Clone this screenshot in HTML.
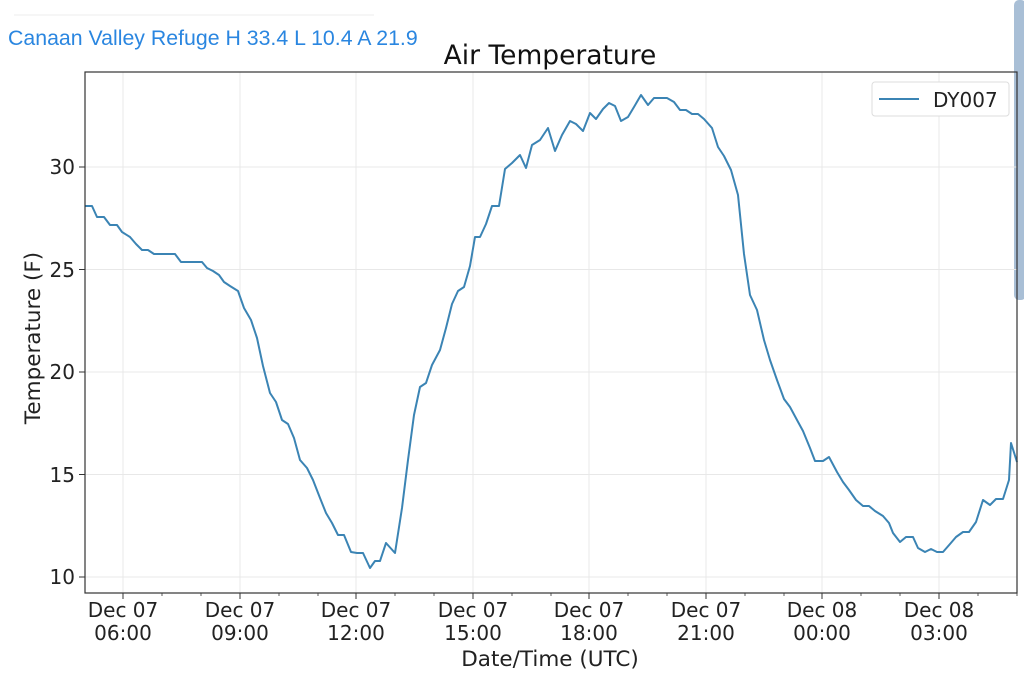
<!DOCTYPE html>
<html><head><meta charset="utf-8"><style>
body{margin:0;background:#fff;width:1024px;height:673px;overflow:hidden;font-family:"DejaVu Sans","Liberation Sans",sans-serif}
</style></head><body>
<svg width="1024" height="673" xmlns="http://www.w3.org/2000/svg" style="position:absolute;left:0;top:0">
<line x1="14" y1="15" x2="374" y2="15" stroke="#eee" stroke-width="1"/>
<text x="8" y="45" font-family="Liberation Sans, sans-serif" font-size="21.3" fill="#2a86e0">Canaan Valley Refuge H 33.4 L 10.4 A 21.9</text>
<rect x="1014" y="0" width="12" height="300" rx="5" fill="#a9bfd6"/>
<text x="550" y="64" font-size="26.5" text-anchor="middle" fill="#111">Air Temperature</text>
<g stroke="#e8e8e8" stroke-width="1">
<line x1="85" y1="577" x2="1017" y2="577"/><line x1="85" y1="474.5" x2="1017" y2="474.5"/>
<line x1="85" y1="372" x2="1017" y2="372"/><line x1="85" y1="269.5" x2="1017" y2="269.5"/>
<line x1="85" y1="167" x2="1017" y2="167"/>
<line x1="123" y1="72" x2="123" y2="593"/><line x1="240" y1="72" x2="240" y2="593"/>
<line x1="356" y1="72" x2="356" y2="593"/><line x1="473" y1="72" x2="473" y2="593"/>
<line x1="589" y1="72" x2="589" y2="593"/><line x1="706" y1="72" x2="706" y2="593"/>
<line x1="822" y1="72" x2="822" y2="593"/><line x1="939" y1="72" x2="939" y2="593"/>
</g>
<polyline fill="none" stroke="#3b84b4" stroke-width="2" stroke-linejoin="round" points="85,206 92,206 97,217 104,217 110,225 117,225 122,232 130,237 136,244 142,250 148,250 154,254 160,254 175,254 181,262 202,262 207,268 213,271 219,275 224,282 230,286 238,291 244,308 251,320 257,338 263,366 270,393 276,402 282,420 288,424 294,438 300,460 307,468 313,480 320,498 326,513 332,523 338,535 344,535 351,552 357,553 363,553 370,568 375,561 380,561 386,543 395,553 402,508 408,460 414,415 420,387 426,383 432,365 440,350 446,328 452,304 458,291 464,287 470,266 475,237 480,237 486,224 492,206 499,206 505,169 512,163 520,155 526,168 532,145 540,140 548,128 555,151 562,135 570,121 576,124 583,131 590,113 596,119 603,109 609,103 615,106 621,121 628,117 634,107 641,95 648,105 654,98 661,98 667,98 674,102 680,110 686,110 692,114 698,114 704,119 712,128 718,147 724,156 731,170 738,195 744,254 750,295 757,310 764,340 770,360 777,380 784,399 790,407 797,420 803,431 810,448 815,461 823,461 829,457 837,472 843,482 849,490 856,500 863,506 869,506 875,511 883,516 889,523 893,533 900,542 906,537 913,537 918,548 925,552 931,549 937,552 943,552 950,544 956,537 963,532 969,532 976,522 983,500 990,505 996,499 1003,499 1009,480 1011,443 1017,462"/>
<rect x="85" y="72" width="932" height="521" fill="none" stroke="#333" stroke-width="1.2"/>
<g stroke="#333" stroke-width="1">
<line x1="79" y1="577" x2="85" y2="577"/><line x1="79" y1="474.5" x2="85" y2="474.5"/>
<line x1="79" y1="372" x2="85" y2="372"/><line x1="79" y1="269.5" x2="85" y2="269.5"/>
<line x1="79" y1="167" x2="85" y2="167"/>
<line x1="123" y1="593" x2="123" y2="599"/><line x1="240" y1="593" x2="240" y2="599"/>
<line x1="356" y1="593" x2="356" y2="599"/><line x1="473" y1="593" x2="473" y2="599"/>
<line x1="589" y1="593" x2="589" y2="599"/><line x1="706" y1="593" x2="706" y2="599"/>
<line x1="822" y1="593" x2="822" y2="599"/><line x1="939" y1="593" x2="939" y2="599"/>
</g>
<g stroke="#333" stroke-width="0.8">
<line x1="162" y1="593" x2="162" y2="596"/><line x1="201" y1="593" x2="201" y2="596"/>
<line x1="279" y1="593" x2="279" y2="596"/><line x1="318" y1="593" x2="318" y2="596"/>
<line x1="395" y1="593" x2="395" y2="596"/><line x1="434" y1="593" x2="434" y2="596"/>
<line x1="512" y1="593" x2="512" y2="596"/><line x1="551" y1="593" x2="551" y2="596"/>
<line x1="628" y1="593" x2="628" y2="596"/><line x1="667" y1="593" x2="667" y2="596"/>
<line x1="745" y1="593" x2="745" y2="596"/><line x1="784" y1="593" x2="784" y2="596"/>
<line x1="861" y1="593" x2="861" y2="596"/><line x1="900" y1="593" x2="900" y2="596"/>
<line x1="978" y1="593" x2="978" y2="596"/><line x1="1017" y1="593" x2="1017" y2="596"/>
</g>
<g font-size="20" fill="#222" text-anchor="end">
<text x="75" y="584">10</text><text x="75" y="482">15</text><text x="75" y="379">20</text>
<text x="75" y="277">25</text><text x="75" y="174">30</text>
</g>
<g font-size="20" fill="#222" text-anchor="middle">
<text x="123" y="617">Dec 07</text><text x="123" y="640">06:00</text>
<text x="240" y="617">Dec 07</text><text x="240" y="640">09:00</text>
<text x="356" y="617">Dec 07</text><text x="356" y="640">12:00</text>
<text x="473" y="617">Dec 07</text><text x="473" y="640">15:00</text>
<text x="589" y="617">Dec 07</text><text x="589" y="640">18:00</text>
<text x="706" y="617">Dec 07</text><text x="706" y="640">21:00</text>
<text x="822" y="617">Dec 08</text><text x="822" y="640">00:00</text>
<text x="939" y="617">Dec 08</text><text x="939" y="640">03:00</text>
</g>
<text x="550" y="666" font-size="21.5" text-anchor="middle" fill="#222">Date/Time (UTC)</text>
<text transform="translate(40,338) rotate(-90)" font-size="21.5" text-anchor="middle" fill="#222">Temperature (F)</text>
<rect x="872" y="82" width="137" height="34" rx="3" fill="#fff" stroke="#ddd"/>
<line x1="879" y1="99" x2="919" y2="99" stroke="#3b84b4" stroke-width="2"/>
<text x="933" y="107" font-size="20" fill="#222">DY007</text>
</svg>
</body></html>
